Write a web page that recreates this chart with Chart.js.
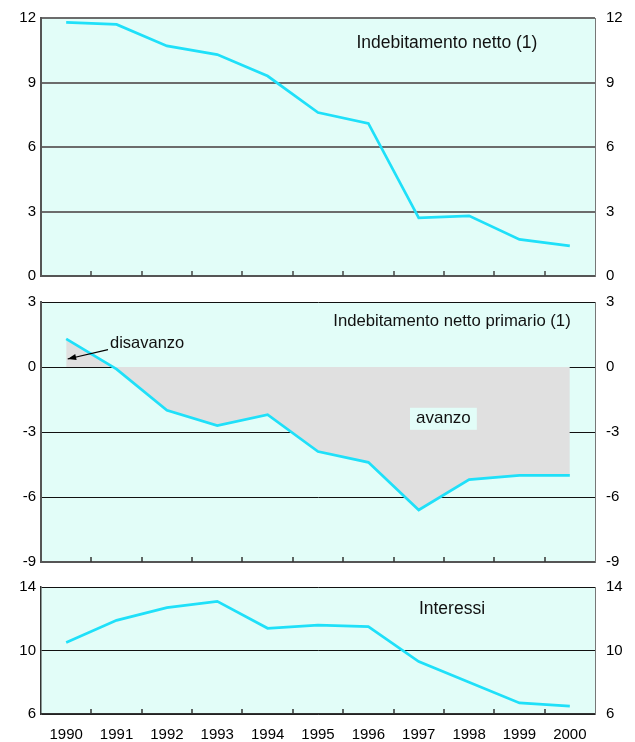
<!DOCTYPE html>
<html>
<head>
<meta charset="utf-8">
<script src="https://cdn.jsdelivr.net/npm/chart.js@4.4.1/dist/chart.umd.min.js"></script>
<style>
  body { margin: 0; background: #fff; }
  .panel { position: absolute; left: 0; }
</style>
</head>
<body>
<canvas id="netto" class="panel" style="top:0px" width="635" height="290"></canvas>
<canvas id="primario" class="panel" style="top:290px" width="635" height="283"></canvas>
<canvas id="interessi" class="panel" style="top:570px" width="635" height="172"></canvas>
<script>
const years = ['1990', '1991', '1992', '1993', '1994', '1995', '1996', '1997', '1998', '1999', '2000'];
const indebitamentoNetto = [11.8, 11.7, 10.7, 10.3, 9.3, 7.6, 7.1, 2.7, 2.8, 1.7, 1.4];
const indebitamentoPrimario = [1.3, -0.1, -2.0, -2.7, -2.2, -3.9, -4.4, -6.6, -5.2, -5.0, -5.0];
const interessi = [10.5, 11.9, 12.7, 13.1, 11.4, 11.6, 11.5, 9.3, 8.0, 6.7, 6.5];

const FONT = '"Liberation Sans", Arial, sans-serif';
const LINE = '#1fe0f9';
const PLOT_BG = '#e2fdf8';

// plot background, inward ticks between years, text notes
const frame = {
  id: 'frame',
  beforeDraw(chart) {
    const a = chart.chartArea, ctx = chart.ctx;
    ctx.save();
    ctx.fillStyle = PLOT_BG;
    ctx.fillRect(a.left, a.top, a.right - a.left, a.bottom - a.top);
    ctx.restore();
  },
  afterDraw(chart, args, opts) {
    const a = chart.chartArea, ctx = chart.ctx;
    const xs = chart.scales.x, ys = chart.scales.y;
    ctx.save();
    ctx.strokeStyle = opts.tickColor || '#333';
    ctx.lineWidth = 1.5;
    for (let i = 1; i < years.length; i++) {
      const px = Math.round(xs.getPixelForValue(i - 0.5));
      ctx.beginPath();
      ctx.moveTo(px, a.bottom);
      ctx.lineTo(px, a.bottom - 5);
      ctx.stroke();
    }
    ctx.textBaseline = 'middle';
    (opts.notes || []).forEach(n => {
      const px = xs.getPixelForValue(n.x);
      const py = ys.getPixelForValue(n.y);
      if (n.arrowTo) {
        const hx = xs.getPixelForValue(n.arrowTo[0]);
        const hy = ys.getPixelForValue(n.arrowTo[1]);
        const ang = Math.atan2(hy - py, hx - px);
        ctx.strokeStyle = '#000';
        ctx.fillStyle = '#000';
        ctx.lineWidth = 1.2;
        ctx.beginPath();
        ctx.moveTo(px, py);
        ctx.lineTo(hx, hy);
        ctx.stroke();
        ctx.beginPath();
        ctx.moveTo(hx, hy);
        ctx.lineTo(hx - 9 * Math.cos(ang - 0.35), hy - 9 * Math.sin(ang - 0.35));
        ctx.lineTo(hx - 9 * Math.cos(ang + 0.35), hy - 9 * Math.sin(ang + 0.35));
        ctx.closePath();
        ctx.fill();
        return;
      }
      ctx.font = (n.size || 16.5) + 'px ' + FONT;
      ctx.textAlign = n.align || 'center';
      if (n.box) {
        const w = ctx.measureText(n.text).width + 12;
        ctx.fillStyle = PLOT_BG;
        ctx.fillRect(px - w / 2, py - 11, w, 22);
      }
      ctx.fillStyle = '#111';
      ctx.fillText(n.text, px, py);
    });
    ctx.restore();
  }
};

function makePanel(id, data, yMin, yMax, step, opts) {
  const noTick = 'rgba(0,0,0,0)';
  return new Chart(document.getElementById(id), {
    type: 'line',
    data: {
      labels: years,
      datasets: [{
        data: data,
        borderColor: LINE,
        borderWidth: 2.7,
        pointRadius: 0,
        tension: 0,
        fill: opts.fill ? 'origin' : false,
        backgroundColor: '#e0e0e0',
        yAxisID: 'y'
      }, {
        data: data,
        borderWidth: 0,
        pointRadius: 0,
        yAxisID: 'y2'
      }]
    },
    options: {
      responsive: false,
      animation: false,
      layout: { padding: { top: opts.padTop, left: 0, right: 0, bottom: 0 } },
      plugins: {
        legend: { display: false },
        tooltip: { enabled: false },
        frame: { notes: opts.notes, tickColor: opts.tickColor }
      },
      scales: {
        x: {
          type: 'category',
          offset: true,
          grid: { display: false, drawTicks: false },
          border: { display: true, color: opts.borderColor, width: opts.borderWidth },
          ticks: {
            display: opts.showYears,
            color: '#000',
            padding: 12,
            font: { family: FONT, size: 15 },
            maxRotation: 0,
            autoSkip: false
          },
          afterFit(s) { s.height = opts.xHeight; }
        },
        y: {
          position: 'left',
          min: yMin,
          max: yMax,
          ticks: { stepSize: step, color: '#000', padding: 2, font: { family: FONT, size: 15 } },
          grid: { color: opts.gridColor, lineWidth: opts.gridWidth, drawTicks: true, tickLength: 3, tickColor: noTick },
          border: { display: true, color: opts.borderColor, width: opts.borderWidth },
          afterFit(s) { s.width = 41; }
        },
        y2: {
          position: 'right',
          min: yMin,
          max: yMax,
          ticks: { stepSize: step, color: '#000', padding: 2, font: { family: FONT, size: 15 } },
          grid: { display: false, drawTicks: true, tickLength: 9, tickColor: noTick },
          border: { display: true, color: '#777', width: 1 },
          afterFit(s) { s.width = 40; }
        }
      }
    },
    plugins: [frame]
  });
}

makePanel('netto', indebitamentoNetto, 0, 12, 3, {
  padTop: 18, xHeight: 14, showYears: false,
  gridColor: '#6c6c6c', gridWidth: 2, borderColor: '#555', borderWidth: 2, tickColor: '#444',
  notes: [{ text: 'Indebitamento netto (1)', x: 7.56, y: 10.85, size: 17.5 }]
});

makePanel('primario', indebitamentoPrimario, -9, 3, 3, {
  padTop: 12, xHeight: 11, showYears: false, fill: true,
  gridColor: '#111', gridWidth: 1, borderColor: '#555', borderWidth: 2, tickColor: '#333',
  notes: [
    { text: 'Indebitamento netto primario (1)', x: 7.66, y: 2.09, size: 16.7 },
    { text: 'disavanzo', x: 0.87, y: 1.08, align: 'left' },
    { x: 0.83, y: 0.8, arrowTo: [0.03, 0.37] },
    { text: 'avanzo', x: 7.49, y: -2.39, box: true, size: 17 }
  ]
});

makePanel('interessi', interessi, 6, 14, 4, {
  padTop: 17, xHeight: 28, showYears: true,
  gridColor: '#111', gridWidth: 1, borderColor: '#333', borderWidth: 1.5, tickColor: '#333',
  notes: [{ text: 'Interessi', x: 7.66, y: 12.61, size: 17.5 }]
});
</script>
</body>
</html>
